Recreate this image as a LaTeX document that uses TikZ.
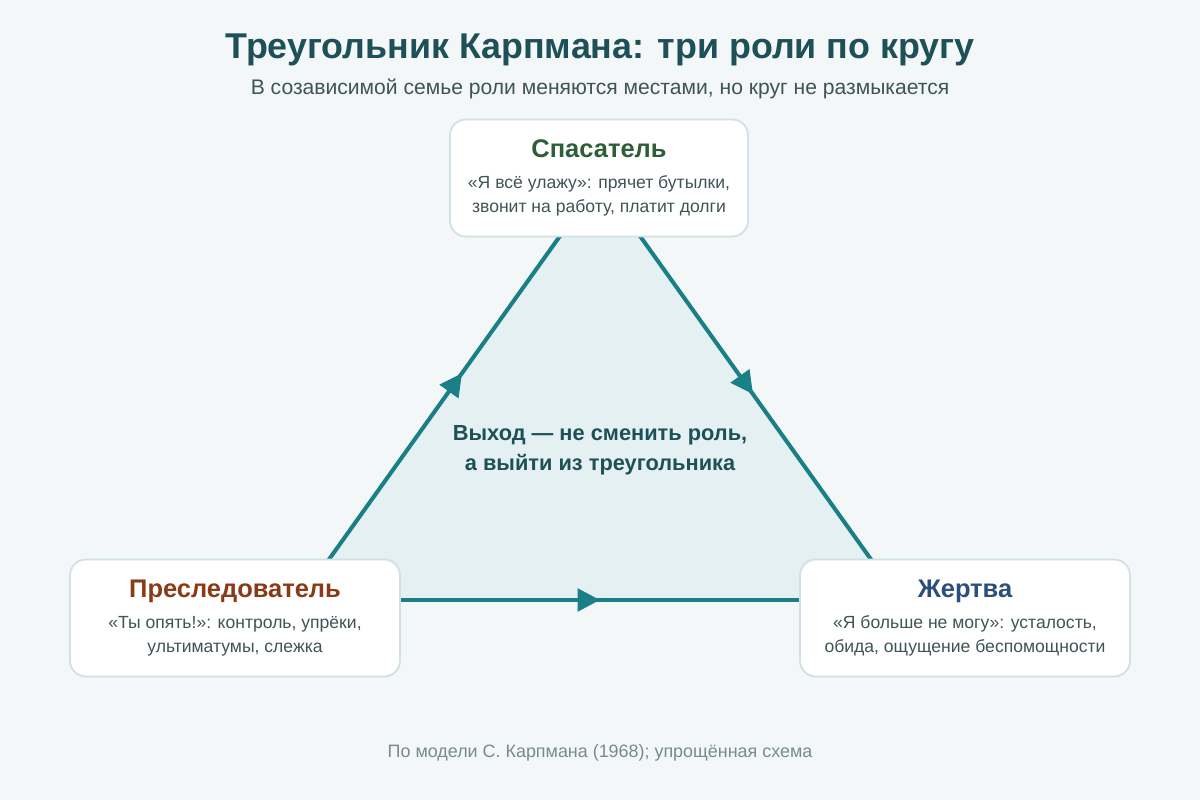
\documentclass[tikz,border=0pt]{standalone}
\usepackage{fontspec}
\setmainfont{Liberation Sans}
\usetikzlibrary{arrows.meta,decorations.markings}
\definecolor{bgcol}{HTML}{F3F7F8}
\definecolor{teal}{HTML}{1B7F88}
\definecolor{trifill}{HTML}{E4F0F1}
\definecolor{boxline}{HTML}{CFE1E4}
\definecolor{titlecol}{HTML}{1E5057}
\definecolor{textcol}{HTML}{3F5457}
\definecolor{rescol}{HTML}{2D5E38}
\definecolor{perscol}{HTML}{8B3A17}
\definecolor{viccol}{HTML}{2B4F7B}
\definecolor{footcol}{HTML}{7A8A8C}
\tikzset{
  role/.style={draw=boxline, line width=1pt, fill=white, rounded corners=9pt,
    minimum width=6cm, minimum height=2.34cm, align=center, text=textcol,
    font=\fontsize{10}{13.5}\selectfont},
  edge/.style={draw=teal, line width=2.3pt, postaction={decorate},
    decoration={markings, mark=at position #1 with {\arrow{Triangle[length=0.45cm,width=0.45cm]}}}},
}
\begin{document}
\begin{tikzpicture}[x=0.02cm,y=-0.02cm]
        \fill[bgcol] (0,0) rectangle (1200,800);
        \useasboundingbox (0,0) rectangle (1200,800);

        % title
        \node (title) at (600,50) {\fontsize{20.4}{24}\selectfont\bfseries\color{titlecol}Треугольник Карпмана: три роли по кругу};
        \node (subtitle) at (600,89) {\fontsize{12}{14}\selectfont\color{textcol}В созависимой семье роли меняются местами, но круг не размыкается};

        % triangle
        \coordinate (left) at (300,600);
        \coordinate (apex) at (600,180);
        \coordinate (right) at (900,600);
        \fill[trifill] (left) -- (apex) -- (right) -- cycle;
        \draw[edge=0.54] (left) -- (apex);
        \draw[edge=0.51] (apex) -- (right);
        \draw[edge=0.5] (left) -- (right);

        \node (exit) at (600,450) [align=center, text=titlecol, font=\fontsize{12.4}{17}\selectfont\bfseries]
            {Выход — не сменить роль,\\а выйти из треугольника};

        % roles
        \node (rescuer) at (599,178) [role, minimum width=5.96cm]
            {{\fontsize{14.5}{17}\selectfont\bfseries\color{rescol}Спасатель}\\[4pt]
             «Я всё улажу»: прячет бутылки,\\звонит на работу, платит долги};
        \node (persecutor) at (235,618) [role, minimum width=6.6cm]
            {{\fontsize{14.5}{17}\selectfont\bfseries\color{perscol}Преследователь}\\[4pt]
             «Ты опять!»: контроль, упрёки,\\ультиматумы, слежка};
        \node (victim) at (965,618) [role, minimum width=6.6cm]
            {{\fontsize{14.5}{17}\selectfont\bfseries\color{viccol}Жертва}\\[4pt]
             «Я больше не могу»: усталость,\\обида, ощущение беспомощности};

        \node (source) at (600,753) [text=footcol, font=\fontsize{10.2}{12}\selectfont]
            {По модели С. Карпмана (1968); упрощённая схема};
\end{tikzpicture}
\end{document}
